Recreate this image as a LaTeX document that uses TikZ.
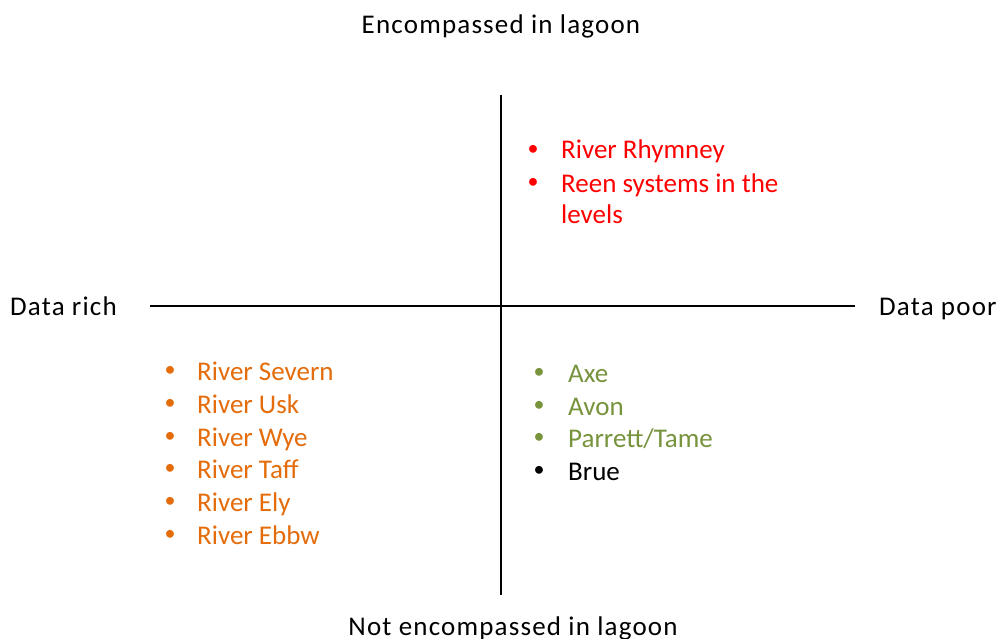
\documentclass[tikz,border=0pt]{standalone}
\usepackage{fontspec}
\setmainfont{Carlito}
\newfontfamily\spacedfont[LetterSpace=4.4]{Carlito}
\definecolor{cred}{HTML}{FF0000}
\definecolor{corange}{HTML}{E46C0A}
\definecolor{cgreen}{HTML}{77933C}
\begin{document}
\begin{tikzpicture}[x=1pt,y=-1pt,
  lbl/.style={font=\spacedfont\fontsize{27}{32}\selectfont, inner sep=0pt, anchor=base},
  lblw/.style={font=\spacedfont\fontsize{27}{32}\selectfont, inner sep=0pt, anchor=base west},
  item/.style={font=\fontsize{27}{32}\selectfont, inner sep=0pt, anchor=base west},
  bul/.style={font=\fontsize{22}{26}\selectfont, inner sep=0pt, anchor=center},
  axis/.style={line width=1.6pt, black}]
\useasboundingbox (0,0) rectangle (1000,639);
\fill[white] (0,0) rectangle (1000,639);
% axes
\coordinate (vt) at (501,95);
\coordinate (vb) at (501,595);
\coordinate (hl) at (150,306);
\coordinate (hr) at (855,306);
\draw[axis] (vt) -- (vb);
\draw[axis] (hl) -- (hr);
% axis labels
\node[lbl] (top) at (501,34) {Encompassed in lagoon};
\node[lbl] (bot) at (513,635) {Not encompassed in lagoon};
\node[lblw] (rich) at (10,315) {Data rich};
\node[lblw] (poor) at (879,315) {Data poor};
% red
\node[bul,text=cred] (rb1) at (533,150) {•};
\node[item,text=cred] (r1) at (561,159) {River Rhymney};
\node[bul,text=cred] (rb2) at (533,183) {•};
\node[item,text=cred] (r2) at (561,192) {Reen systems in the};
\node[item,text=cred] (r3) at (561,223) {levels};
% orange
\foreach \t/\y [count=\i] in {River Severn/380, River Usk/413, River Wye/446, River Taff/478, River Ely/511, River Ebbw/544}{
  \node[bul,text=corange] (ob\i) at (170,\y-9) {•};
  \node[item,text=corange] (o\i) at (197,\y) {\t};
}
% green
\foreach \t/\y [count=\i] in {{Axe}/382, {Avon}/415, {Parrett/Tame}/447}{
  \node[bul,text=cgreen] (gb\i) at (539,\y-9) {•};
  \node[item,text=cgreen] (g\i) at (568,\y) {\t};
}
\node[bul] (gb4) at (539,471) {•};
\node[item] (g4) at (568,480) {Brue};
\end{tikzpicture}
\end{document}
